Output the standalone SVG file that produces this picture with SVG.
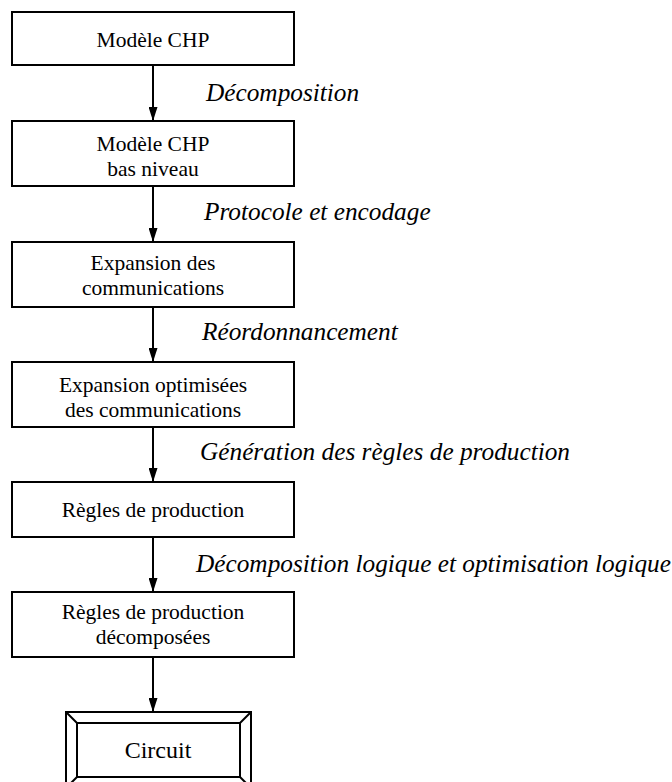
<svg xmlns="http://www.w3.org/2000/svg" width="672" height="782" viewBox="0 0 672 782">
  <style>
    .box { fill: #ffffff; stroke: #000000; stroke-width: 2; }
    .lbl { font-family: 'Liberation Serif', 'Times New Roman', serif; font-size: 21.5px; fill: #000000; text-anchor: middle; }
    .step { font-family: 'Liberation Serif', 'Times New Roman', serif; font-size: 25.3px; font-style: italic; fill: #000000; }
    .conn { stroke: #000000; stroke-width: 2; fill: none; }
  </style>
  <defs>
    <marker id="arrow" markerWidth="14" markerHeight="9" refX="14" refY="4.5" orient="auto" markerUnits="userSpaceOnUse">
      <path d="M0,0 L14,4.5 L0,9 Z" fill="#000000"/>
    </marker>
  </defs>
  <rect width="672" height="782" fill="#ffffff"/>

  <!-- connectors between the stages -->
  <g id="connectors">
    <line class="conn" x1="153" y1="65" x2="153" y2="121" marker-end="url(#arrow)"/>
    <line class="conn" x1="153" y1="186" x2="153" y2="242" marker-end="url(#arrow)"/>
    <line class="conn" x1="153" y1="307" x2="153" y2="362" marker-end="url(#arrow)"/>
    <line class="conn" x1="153" y1="427" x2="153" y2="482" marker-end="url(#arrow)"/>
    <line class="conn" x1="153" y1="537" x2="153" y2="592" marker-end="url(#arrow)"/>
    <line class="conn" x1="153" y1="657" x2="153" y2="712" marker-end="url(#arrow)"/>
  </g>

  <!-- transformation labels -->
  <g id="steps">
    <text class="step" x="206" y="101">Décomposition</text>
    <text class="step" x="204" y="220">Protocole et encodage</text>
    <text class="step" x="202" y="340">Réordonnancement</text>
    <text class="step" x="200" y="460">Génération des règles de production</text>
    <text class="step" x="196" y="572">Décomposition logique et optimisation logique</text>
  </g>

  <g id="chp">
    <rect class="box" x="12" y="12" width="282" height="53"/>
    <text class="lbl" x="153" y="47">Modèle CHP</text>
  </g>

  <g id="chp-low">
    <rect class="box" x="12" y="121" width="282" height="65"/>
    <text class="lbl" x="153" y="151">Modèle CHP</text>
    <text class="lbl" x="153" y="176">bas niveau</text>
  </g>

  <g id="comm-expansion">
    <rect class="box" x="12" y="242" width="282" height="65"/>
    <text class="lbl" x="153" y="270">Expansion des</text>
    <text class="lbl" x="153" y="295">communications</text>
  </g>

  <g id="comm-expansion-opt">
    <rect class="box" x="12" y="362" width="282" height="65"/>
    <text class="lbl" x="153" y="392">Expansion optimisées</text>
    <text class="lbl" x="153" y="417">des communications</text>
  </g>

  <g id="rules">
    <rect class="box" x="12" y="482" width="282" height="55"/>
    <text class="lbl" x="153" y="517">Règles de production</text>
  </g>

  <g id="rules-decomposed">
    <rect class="box" x="12" y="592" width="282" height="65"/>
    <text class="lbl" x="153" y="619">Règles de production</text>
    <text class="lbl" x="153" y="644">décomposées</text>
  </g>

  <g id="circuit">
    <rect class="box" x="66" y="712" width="185" height="76"/>
    <rect class="box" x="77" y="723" width="163" height="54"/>
    <line class="conn" x1="66" y1="712" x2="77" y2="723"/>
    <line class="conn" x1="251" y1="712" x2="240" y2="723"/>
    <line class="conn" x1="66" y1="788" x2="77" y2="777"/>
    <line class="conn" x1="251" y1="788" x2="240" y2="777"/>
    <text class="lbl" x="158" y="758" style="font-size:24px">Circuit</text>
  </g>
</svg>
